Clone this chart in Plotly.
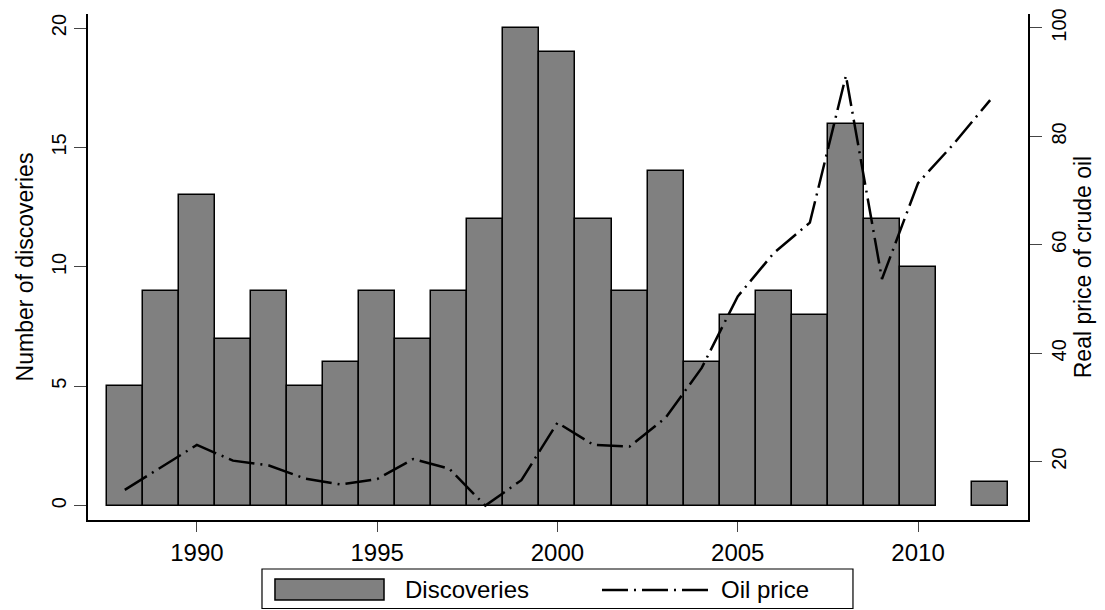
import plotly.graph_objects as go

# 연도별 자료
years = list(range(1988, 2013))
discoveries = [5, 9, 13, 7, 9, 5, 6, 9, 7, 9, 12, 20, 19, 12, 9, 14, 6, 8, 9, 8, 16, 12, 10, None, 1]
oil_price = [14.8, 18.9, 23.1, 20.2, 19.3, 16.9, 15.8, 16.8, 20.5, 18.7, 11.9, 16.6, 27.2, 23.1,
             22.8, 28.1, 37.3, 50.5, 58.5, 64.1, 91.2, 53.7, 71.4, 78.7, 86.7]

left_ticks = [0, 5, 10, 15, 20]
right_ticks = [20, 40, 60, 80, 100]
x_ticks = [1990, 1995, 2000, 2005, 2010]

FONT = "Liberation Sans, Arial, sans-serif"
DASH = "26px,6px,2px,6px"

fig = go.Figure()

# 막대: 발견 건수
fig.add_trace(go.Bar(
    x=years, y=discoveries, width=1,
    marker=dict(color="#808080", line=dict(color="black", width=1.5)),
    name="Discoveries", yaxis="y",
))

# 선: 유가
fig.add_trace(go.Scatter(
    x=years, y=oil_price, mode="lines",
    line=dict(color="black", width=2.5, dash=DASH),
    name="Oil price", yaxis="y2",
))

# 페이지 여백(8px)을 빼고 크기 맞춤
fig.update_layout(
    width=1097, height=602,
    margin=dict(l=80, r=77, t=6, b=90, autoexpand=False),
    paper_bgcolor="white", plot_bgcolor="white",
    showlegend=False, bargap=0,
    font=dict(family=FONT, color="black", size=22),
    xaxis=dict(
        range=[1986.98, 2013.05], tickvals=x_ticks, ticks="outside", ticklen=10,
        showline=True, linecolor="black", linewidth=1.5, showgrid=False, zeroline=False,
        tickfont=dict(size=24),
    ),
    yaxis=dict(
        range=[-0.6, 20.59], tickvals=left_ticks, ticks="outside", ticklen=12,
        tickangle=-90, showline=True, linecolor="black", linewidth=1.5,
        showgrid=False, zeroline=False, ticklabeloverflow="allow", tickfont=dict(size=20),
        title=dict(text="Number of discoveries", font=dict(size=23), standoff=8),
    ),
    yaxis2=dict(
        range=[9.25, 102.58], tickvals=right_ticks, ticks="outside", ticklen=12,
        tickangle=-90, overlaying="y", side="right", showline=True, linecolor="black",
        linewidth=1.5, showgrid=False, zeroline=False, ticklabeloverflow="allow",
        tickfont=dict(size=20),
        title=dict(text="Real price of crude oil", font=dict(size=23), standoff=5),
    ),
)

# 범례 (직접 그림)
fig.add_shape(type="rect", xref="paper", yref="paper", x0=0.1851, x1=0.8138, y0=-0.1749, y1=-0.0968,
              line=dict(color="black", width=1.2), fillcolor="white")
fig.add_shape(type="rect", xref="paper", yref="paper", x0=0.1989, x1=0.3149, y0=-0.1581, y1=-0.1166,
              line=dict(color="black", width=1.5), fillcolor="#808080")
fig.add_shape(type="line", xref="paper", yref="paper", x0=0.5468, x1=0.6638, y0=-0.1383, y1=-0.1383,
              line=dict(color="black", width=2.5, dash=DASH))
fig.add_annotation(text="Discoveries", xref="paper", yref="paper", x=0.3351, y=-0.1374,
                   xanchor="left", yanchor="middle", showarrow=False, font=dict(size=24))
fig.add_annotation(text="Oil price", xref="paper", yref="paper", x=0.6713, y=-0.1374,
                   xanchor="left", yanchor="middle", showarrow=False, font=dict(size=24))

fig.write_html("out.html")
